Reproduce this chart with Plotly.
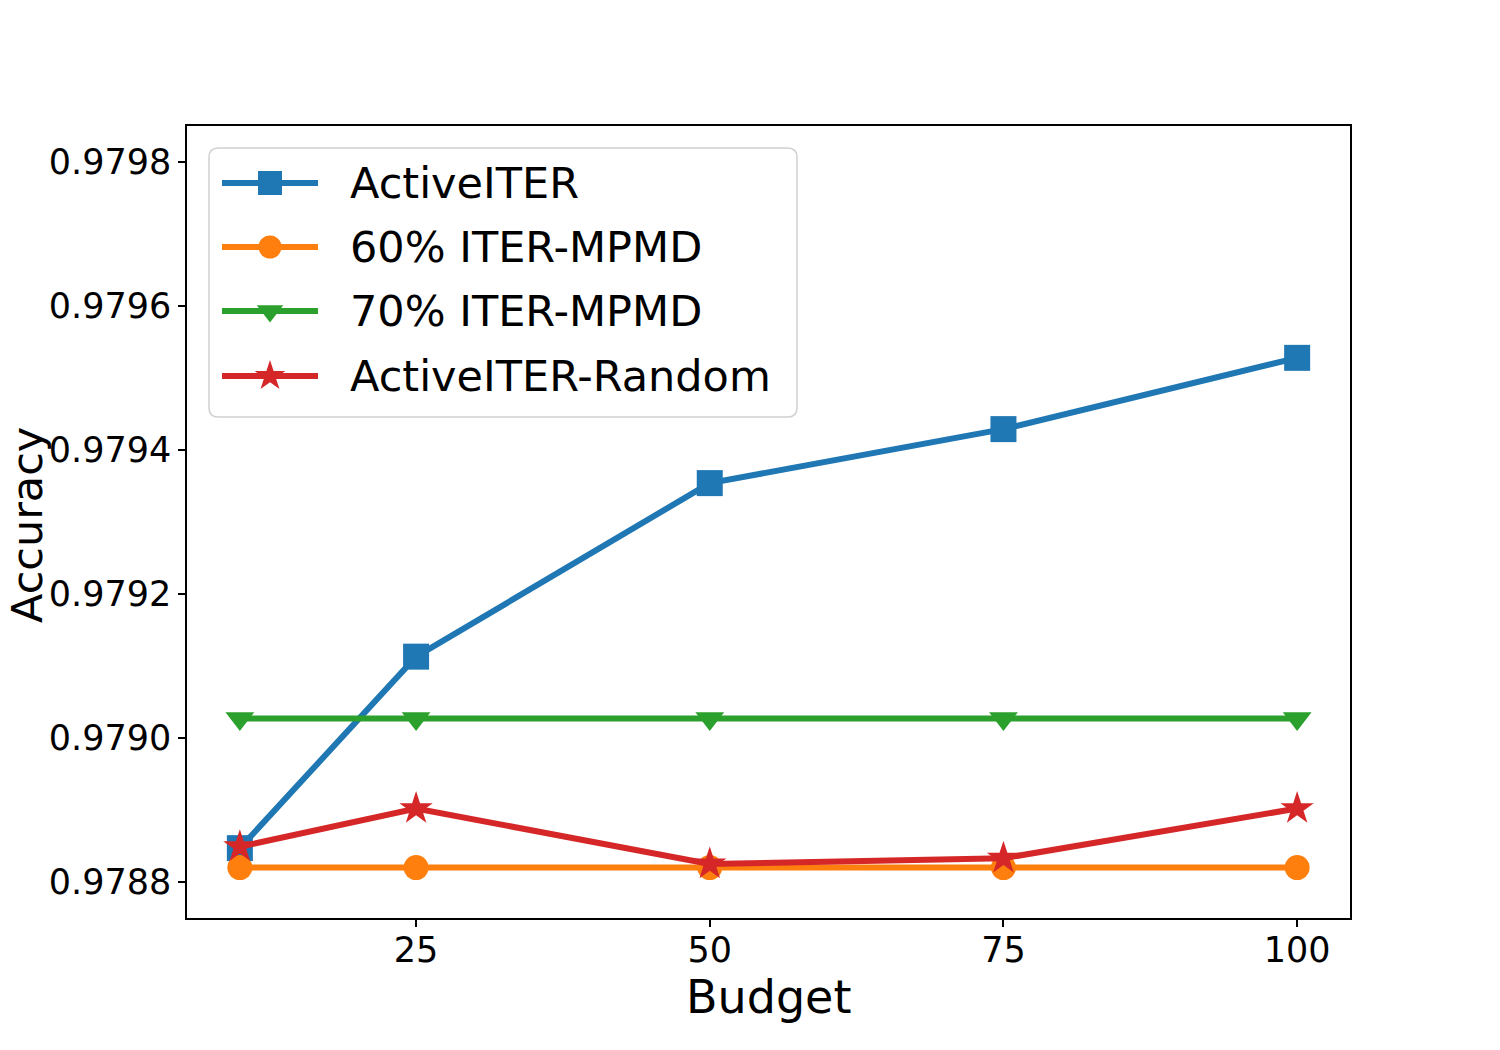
import plotly.graph_objects as go

budget = [10, 25, 50, 75, 100]
active_iter = [0.978847, 0.979113, 0.979354, 0.979429, 0.979528]
iter_mpmd_60 = [0.97882, 0.97882, 0.97882, 0.97882, 0.97882]
iter_mpmd_70 = [0.979027, 0.979027, 0.979027, 0.979027, 0.979027]
active_iter_random = [0.978849, 0.978902, 0.978825, 0.978833, 0.978902]
series_names = ["ActiveITER", "60% ITER-MPMD", "70% ITER-MPMD", "ActiveITER-Random"]
y_ticks = [0.9788, 0.9790, 0.9792, 0.9794, 0.9796, 0.9798]
x_ticks = [25, 50, 75, 100]
x_title = "Budget"
y_title = "Accuracy"

styles = [
    ("#1f77b4", "square", 26),
    ("#ff7f0e", "circle", 25),
    ("#2ca02c", "triangle-down", 25),
    ("#d62728", "star", 25),
]
values = [active_iter, iter_mpmd_60, iter_mpmd_70, active_iter_random]

fig = go.Figure()
for name, vals, (color, sym, size) in zip(series_names, values, styles):
    fig.add_trace(go.Scatter(
        x=budget, y=vals, name=name, mode="lines+markers",
        line=dict(color=color, width=6),
        marker=dict(symbol=sym, size=size, color=color, opacity=1, line=dict(width=0)),
        showlegend=False,
    ))

# custom legend (drawn on an overlay axis spanning the plot area, range 0..1)
W, H, L, T = 1163, 792, 187, 126
def px_x(p):
    return (p - L) / W
def px_y(p):
    return (T + H - p) / H

row_y = [183, 247, 311, 376]
lx0, lxm, lx1, tx = px_x(222), px_x(270), px_x(318), px_x(348)
annotations = []
for name, (color, sym, size), ry in zip(series_names, styles, row_y):
    yy = px_y(ry)
    fig.add_trace(go.Scatter(
        x=[lx0, lx1], y=[yy, yy], xaxis="x2", yaxis="y2",
        mode="lines", line=dict(color=color, width=6),
        showlegend=False, hoverinfo="skip",
    ))
    fig.add_trace(go.Scatter(
        x=[lxm], y=[yy], xaxis="x2", yaxis="y2",
        mode="markers",
        marker=dict(symbol=sym, size=size - 2, color=color, opacity=1, line=dict(width=0)),
        showlegend=False, hoverinfo="skip",
    ))
    annotations.append(dict(
        x=tx, y=yy, xref="paper", yref="paper", text=name, showarrow=False,
        xanchor="left", yanchor="middle",
        font=dict(family="DejaVu Sans", size=43, color="black"),
    ))

# axis titles
annotations.append(dict(
    x=0.5, y=px_y(997), xref="paper", yref="paper", text=x_title, showarrow=False,
    xanchor="center", yanchor="middle",
    font=dict(family="DejaVu Sans", size=46, color="black"),
))
annotations.append(dict(
    x=px_x(27), y=px_y(525), xref="paper", yref="paper", text=y_title, showarrow=False,
    xanchor="center", yanchor="middle", textangle=-90,
    font=dict(family="DejaVu Sans", size=43, color="black"),
))

bx0, bx1, by0, by1 = px_x(209), px_x(797), px_y(417), px_y(148)
r = 0.008
ry_ = r * W / H
path = (f"M {bx0 + r},{by0} L {bx1 - r},{by0} Q {bx1},{by0} {bx1},{by0 + ry_} "
        f"L {bx1},{by1 - ry_} Q {bx1},{by1} {bx1 - r},{by1} L {bx0 + r},{by1} "
        f"Q {bx0},{by1} {bx0},{by1 - ry_} L {bx0},{by0 + ry_} Q {bx0},{by0} {bx0 + r},{by0} Z")

axis_common = dict(
    showline=True, mirror=True, linecolor="black", linewidth=1.5,
    ticks="outside", ticklen=7, tickwidth=1.5, tickcolor="black",
    showgrid=False, zeroline=False, automargin=False,
    tickfont=dict(family="DejaVu Sans", size=35, color="black"),
)

fig.update_layout(
    width=1500, height=1050,
    paper_bgcolor="white", plot_bgcolor="white",
    margin=dict(l=187, r=150, t=126, b=132),
    font=dict(family="DejaVu Sans", color="black"),
    xaxis=dict(
        range=[5.5, 104.5], tickvals=x_ticks,
        ticklabelstandoff=-7,
        **axis_common,
    ),
    yaxis=dict(
        range=[0.97875, 0.97985],
        tickvals=y_ticks, tickformat=".4f",
        **axis_common,
    ),
    xaxis2=dict(overlaying="x", range=[0, 1], visible=False, fixedrange=True),
    yaxis2=dict(overlaying="y", range=[0, 1], visible=False, fixedrange=True),
    shapes=[dict(type="path", path=path, xref="paper", yref="paper",
                 line=dict(color="#d0d0d0", width=1.5),
                 fillcolor="rgba(255,255,255,0.8)", layer="below")],
    annotations=annotations,
    showlegend=False,
)

fig.write_html("out.html")
